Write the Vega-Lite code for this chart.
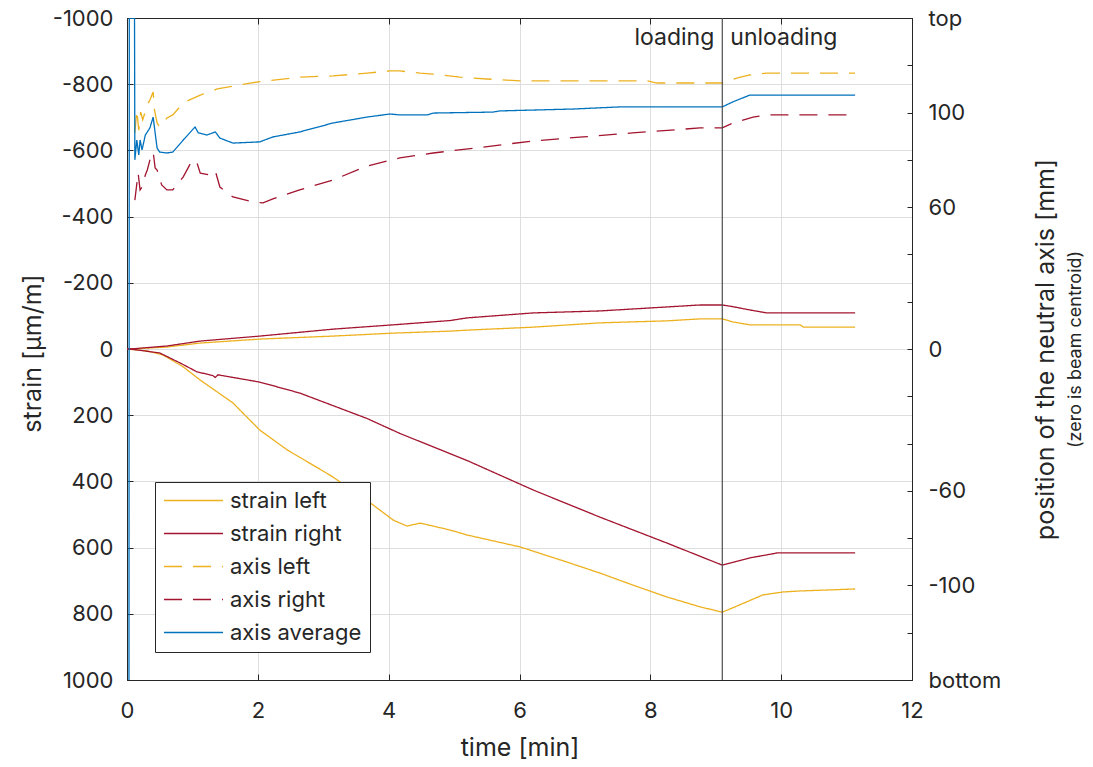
{
  "$schema": "https://vega.github.io/schema/vega-lite/v6.json",
  "width": 785,
  "height": 662,
  "autosize": {"type": "none"},
  "padding": {"left": 127, "top": 18, "right": 181, "bottom": 87},
  "background": "white",
  "config": {
    "font": "Inter",
    "view": {"stroke": "#262626", "strokeWidth": 1},
    "axis": {
      "labelFont": "Inter",
      "titleFont": "Inter",
      "labelFontSize": 22,
      "titleFontSize": 25,
      "titleFontWeight": "normal",
      "labelColor": "#262626",
      "titleColor": "#262626",
      "domainColor": "#262626",
      "tickColor": "#262626",
      "gridColor": "#dedede",
      "gridWidth": 1,
      "labelOverlap": false,
      "labelFlush": false
    },
    "legend": {
      "labelFont": "Inter",
      "labelFontSize": 22,
      "labelColor": "#262626",
      "symbolType": "stroke",
      "symbolSize": 3481,
      "symbolStrokeWidth": 1.3,
      "labelOffset": 6,
      "padding": 8,
      "rowPadding": 10,
      "clipHeight": 21,
      "fillColor": "white",
      "strokeColor": "#262626"
    }
  },
  "datasets": {
    "strain": [
      {"series": "strain left", "gauge": "lower", "t": 0, "strain": 0},
      {"series": "strain left", "gauge": "lower", "t": 0.31, "strain": 6},
      {"series": "strain left", "gauge": "lower", "t": 0.55, "strain": 18},
      {"series": "strain left", "gauge": "lower", "t": 0.86, "strain": 54},
      {"series": "strain left", "gauge": "lower", "t": 1.12, "strain": 94},
      {"series": "strain left", "gauge": "lower", "t": 1.62, "strain": 163},
      {"series": "strain left", "gauge": "lower", "t": 2.03, "strain": 245},
      {"series": "strain left", "gauge": "lower", "t": 2.45, "strain": 305},
      {"series": "strain left", "gauge": "lower", "t": 3.0, "strain": 369},
      {"series": "strain left", "gauge": "lower", "t": 3.15, "strain": 387},
      {"series": "strain left", "gauge": "lower", "t": 3.76, "strain": 471},
      {"series": "strain left", "gauge": "lower", "t": 4.07, "strain": 517},
      {"series": "strain left", "gauge": "lower", "t": 4.28, "strain": 535},
      {"series": "strain left", "gauge": "lower", "t": 4.48, "strain": 526},
      {"series": "strain left", "gauge": "lower", "t": 4.68, "strain": 535},
      {"series": "strain left", "gauge": "lower", "t": 4.94, "strain": 547},
      {"series": "strain left", "gauge": "lower", "t": 5.2, "strain": 562},
      {"series": "strain left", "gauge": "lower", "t": 6.01, "strain": 598},
      {"series": "strain left", "gauge": "lower", "t": 6.73, "strain": 644},
      {"series": "strain left", "gauge": "lower", "t": 7.23, "strain": 677},
      {"series": "strain left", "gauge": "lower", "t": 7.73, "strain": 713},
      {"series": "strain left", "gauge": "lower", "t": 8.25, "strain": 749},
      {"series": "strain left", "gauge": "lower", "t": 8.76, "strain": 779},
      {"series": "strain left", "gauge": "lower", "t": 9.1, "strain": 795},
      {"series": "strain left", "gauge": "lower", "t": 9.26, "strain": 782},
      {"series": "strain left", "gauge": "lower", "t": 9.72, "strain": 743},
      {"series": "strain left", "gauge": "lower", "t": 10.03, "strain": 734},
      {"series": "strain left", "gauge": "lower", "t": 10.29, "strain": 731},
      {"series": "strain left", "gauge": "lower", "t": 11.13, "strain": 725},

      {"series": "strain left", "gauge": "upper", "t": 0, "strain": 0},
      {"series": "strain left", "gauge": "upper", "t": 0.05, "strain": 0},
      {"series": "strain left", "gauge": "upper", "t": 0.61, "strain": -6},
      {"series": "strain left", "gauge": "upper", "t": 1.12, "strain": -18},
      {"series": "strain left", "gauge": "upper", "t": 2.03, "strain": -30},
      {"series": "strain left", "gauge": "upper", "t": 3.15, "strain": -39},
      {"series": "strain left", "gauge": "upper", "t": 4.07, "strain": -48},
      {"series": "strain left", "gauge": "upper", "t": 4.94, "strain": -54},
      {"series": "strain left", "gauge": "upper", "t": 5.2, "strain": -57},
      {"series": "strain left", "gauge": "upper", "t": 6.21, "strain": -66},
      {"series": "strain left", "gauge": "upper", "t": 7.23, "strain": -79},
      {"series": "strain left", "gauge": "upper", "t": 8.25, "strain": -85},
      {"series": "strain left", "gauge": "upper", "t": 8.76, "strain": -91},
      {"series": "strain left", "gauge": "upper", "t": 9.1, "strain": -91},
      {"series": "strain left", "gauge": "upper", "t": 9.26, "strain": -82},
      {"series": "strain left", "gauge": "upper", "t": 9.52, "strain": -73},
      {"series": "strain left", "gauge": "upper", "t": 10.29, "strain": -73},
      {"series": "strain left", "gauge": "upper", "t": 10.34, "strain": -66},
      {"series": "strain left", "gauge": "upper", "t": 11.13, "strain": -66},

      {"series": "strain right", "gauge": "lower", "t": 0, "strain": 0},
      {"series": "strain right", "gauge": "lower", "t": 0.05, "strain": 0},
      {"series": "strain right", "gauge": "lower", "t": 0.5, "strain": 12},
      {"series": "strain right", "gauge": "lower", "t": 0.81, "strain": 42},
      {"series": "strain right", "gauge": "lower", "t": 1.07, "strain": 69},
      {"series": "strain right", "gauge": "lower", "t": 1.31, "strain": 80},
      {"series": "strain right", "gauge": "lower", "t": 1.35, "strain": 86},
      {"series": "strain right", "gauge": "lower", "t": 1.39, "strain": 78},
      {"series": "strain right", "gauge": "lower", "t": 2.03, "strain": 100},
      {"series": "strain right", "gauge": "lower", "t": 2.64, "strain": 133},
      {"series": "strain right", "gauge": "lower", "t": 3.67, "strain": 210},
      {"series": "strain right", "gauge": "lower", "t": 4.17, "strain": 255},
      {"series": "strain right", "gauge": "lower", "t": 5.2, "strain": 337},
      {"series": "strain right", "gauge": "lower", "t": 6.21, "strain": 426},
      {"series": "strain right", "gauge": "lower", "t": 7.23, "strain": 508},
      {"series": "strain right", "gauge": "lower", "t": 8.25, "strain": 586},
      {"series": "strain right", "gauge": "lower", "t": 9.1, "strain": 653},
      {"series": "strain right", "gauge": "lower", "t": 9.52, "strain": 631},
      {"series": "strain right", "gauge": "lower", "t": 9.78, "strain": 622},
      {"series": "strain right", "gauge": "lower", "t": 9.94, "strain": 616},
      {"series": "strain right", "gauge": "lower", "t": 11.13, "strain": 616},

      {"series": "strain right", "gauge": "upper", "t": 0, "strain": 0},
      {"series": "strain right", "gauge": "upper", "t": 0.05, "strain": 0},
      {"series": "strain right", "gauge": "upper", "t": 0.61, "strain": -9},
      {"series": "strain right", "gauge": "upper", "t": 1.12, "strain": -24},
      {"series": "strain right", "gauge": "upper", "t": 2.03, "strain": -39},
      {"series": "strain right", "gauge": "upper", "t": 3.15, "strain": -60},
      {"series": "strain right", "gauge": "upper", "t": 4.07, "strain": -73},
      {"series": "strain right", "gauge": "upper", "t": 4.94, "strain": -86},
      {"series": "strain right", "gauge": "upper", "t": 5.2, "strain": -94},
      {"series": "strain right", "gauge": "upper", "t": 6.21, "strain": -109},
      {"series": "strain right", "gauge": "upper", "t": 7.23, "strain": -115},
      {"series": "strain right", "gauge": "upper", "t": 8.25, "strain": -127},
      {"series": "strain right", "gauge": "upper", "t": 8.76, "strain": -133},
      {"series": "strain right", "gauge": "upper", "t": 9.1, "strain": -133},
      {"series": "strain right", "gauge": "upper", "t": 9.26, "strain": -128},
      {"series": "strain right", "gauge": "upper", "t": 9.52, "strain": -118},
      {"series": "strain right", "gauge": "upper", "t": 9.78, "strain": -109},
      {"series": "strain right", "gauge": "upper", "t": 11.13, "strain": -109}
    ],
    "axis": [
      {"series": "axis left", "t": 0.12, "mm": 91.4},
      {"series": "axis left", "t": 0.15, "mm": 101.1},
      {"series": "axis left", "t": 0.18, "mm": 92.6},
      {"series": "axis left", "t": 0.21, "mm": 100.2},
      {"series": "axis left", "t": 0.24, "mm": 96.9},
      {"series": "axis left", "t": 0.31, "mm": 103.2},
      {"series": "axis left", "t": 0.35, "mm": 105.3},
      {"series": "axis left", "t": 0.4, "mm": 108.7},
      {"series": "axis left", "t": 0.42, "mm": 101.1},
      {"series": "axis left", "t": 0.46, "mm": 95.6},
      {"series": "axis left", "t": 0.5, "mm": 93.9},
      {"series": "axis left", "t": 0.61, "mm": 97.7},
      {"series": "axis left", "t": 0.7, "mm": 99.0},
      {"series": "axis left", "t": 0.86, "mm": 104.1},
      {"series": "axis left", "t": 1.12, "mm": 107.4},
      {"series": "axis left", "t": 1.38, "mm": 110.0},
      {"series": "axis left", "t": 1.62, "mm": 111.2},
      {"series": "axis left", "t": 1.88, "mm": 112.5},
      {"series": "axis left", "t": 2.14, "mm": 113.4},
      {"series": "axis left", "t": 2.64, "mm": 115.0},
      {"series": "axis left", "t": 3.15, "mm": 115.5},
      {"series": "axis left", "t": 3.67, "mm": 116.7},
      {"series": "axis left", "t": 4.02, "mm": 117.6},
      {"series": "axis left", "t": 4.17, "mm": 117.6},
      {"series": "axis left", "t": 4.48, "mm": 116.7},
      {"series": "axis left", "t": 4.68, "mm": 116.3},
      {"series": "axis left", "t": 5.09, "mm": 115.0},
      {"series": "axis left", "t": 5.5, "mm": 114.2},
      {"series": "axis left", "t": 6.01, "mm": 113.4},
      {"series": "axis left", "t": 6.47, "mm": 113.4},
      {"series": "axis left", "t": 7.23, "mm": 113.4},
      {"series": "axis left", "t": 7.95, "mm": 113.4},
      {"series": "axis left", "t": 8.1, "mm": 112.5},
      {"series": "axis left", "t": 8.76, "mm": 112.5},
      {"series": "axis left", "t": 9.1, "mm": 112.5},
      {"series": "axis left", "t": 9.32, "mm": 114.6},
      {"series": "axis left", "t": 9.52, "mm": 115.9},
      {"series": "axis left", "t": 9.78, "mm": 116.7},
      {"series": "axis left", "t": 11.13, "mm": 116.7},

      {"series": "axis right", "t": 0.12, "mm": 63.0},
      {"series": "axis right", "t": 0.17, "mm": 74.4},
      {"series": "axis right", "t": 0.2, "mm": 67.3},
      {"series": "axis right", "t": 0.23, "mm": 68.5},
      {"series": "axis right", "t": 0.28, "mm": 73.6},
      {"series": "axis right", "t": 0.31, "mm": 75.7},
      {"series": "axis right", "t": 0.35, "mm": 79.9},
      {"series": "axis right", "t": 0.4, "mm": 83.3},
      {"series": "axis right", "t": 0.43, "mm": 76.6},
      {"series": "axis right", "t": 0.46, "mm": 75.7},
      {"series": "axis right", "t": 0.53, "mm": 69.4},
      {"series": "axis right", "t": 0.61, "mm": 67.3},
      {"series": "axis right", "t": 0.7, "mm": 67.3},
      {"series": "axis right", "t": 0.86, "mm": 72.8},
      {"series": "axis right", "t": 0.99, "mm": 79.5},
      {"series": "axis right", "t": 1.04, "mm": 79.9},
      {"series": "axis right", "t": 1.07, "mm": 78.7},
      {"series": "axis right", "t": 1.12, "mm": 74.4},
      {"series": "axis right", "t": 1.27, "mm": 73.6},
      {"series": "axis right", "t": 1.35, "mm": 75.3},
      {"series": "axis right", "t": 1.42, "mm": 68.5},
      {"series": "axis right", "t": 1.62, "mm": 64.3},
      {"series": "axis right", "t": 1.93, "mm": 62.2},
      {"series": "axis right", "t": 2.08, "mm": 61.8},
      {"series": "axis right", "t": 2.23, "mm": 63.5},
      {"series": "axis right", "t": 2.64, "mm": 67.3},
      {"series": "axis right", "t": 3.15, "mm": 71.5},
      {"series": "axis right", "t": 3.67, "mm": 77.4},
      {"series": "axis right", "t": 4.17, "mm": 80.8},
      {"series": "axis right", "t": 4.68, "mm": 82.9},
      {"series": "axis right", "t": 5.44, "mm": 85.4},
      {"series": "axis right", "t": 6.21, "mm": 88.0},
      {"series": "axis right", "t": 6.97, "mm": 89.7},
      {"series": "axis right", "t": 7.73, "mm": 91.4},
      {"series": "axis right", "t": 8.76, "mm": 93.5},
      {"series": "axis right", "t": 9.1, "mm": 93.5},
      {"series": "axis right", "t": 9.26, "mm": 95.6},
      {"series": "axis right", "t": 9.57, "mm": 98.1},
      {"series": "axis right", "t": 9.78, "mm": 99.0},
      {"series": "axis right", "t": 11.13, "mm": 99.0},

      {"series": "axis average", "t": 0.03, "mm": -140},
      {"series": "axis average", "t": 0.035, "mm": 140},
      {"series": "axis average", "t": 0.115, "mm": 140},
      {"series": "axis average", "t": 0.12, "mm": 80.0},
      {"series": "axis average", "t": 0.15, "mm": 88.4},
      {"series": "axis average", "t": 0.18, "mm": 82.1},
      {"series": "axis average", "t": 0.2, "mm": 88.4},
      {"series": "axis average", "t": 0.23, "mm": 84.2},
      {"series": "axis average", "t": 0.28, "mm": 90.5},
      {"series": "axis average", "t": 0.35, "mm": 93.5},
      {"series": "axis average", "t": 0.4, "mm": 98.1},
      {"series": "axis average", "t": 0.43, "mm": 91.4},
      {"series": "axis average", "t": 0.46, "mm": 85.0},
      {"series": "axis average", "t": 0.5, "mm": 83.3},
      {"series": "axis average", "t": 0.61, "mm": 82.9},
      {"series": "axis average", "t": 0.7, "mm": 83.3},
      {"series": "axis average", "t": 0.86, "mm": 88.4},
      {"series": "axis average", "t": 1.04, "mm": 93.9},
      {"series": "axis average", "t": 1.09, "mm": 91.4},
      {"series": "axis average", "t": 1.22, "mm": 90.5},
      {"series": "axis average", "t": 1.35, "mm": 91.8},
      {"series": "axis average", "t": 1.42, "mm": 89.2},
      {"series": "axis average", "t": 1.62, "mm": 87.1},
      {"series": "axis average", "t": 2.03, "mm": 87.6},
      {"series": "axis average", "t": 2.23, "mm": 89.7},
      {"series": "axis average", "t": 2.64, "mm": 91.8},
      {"series": "axis average", "t": 3.15, "mm": 95.6},
      {"series": "axis average", "t": 3.67, "mm": 98.1},
      {"series": "axis average", "t": 4.02, "mm": 99.4},
      {"series": "axis average", "t": 4.17, "mm": 99.0},
      {"series": "axis average", "t": 4.59, "mm": 99.0},
      {"series": "axis average", "t": 4.68, "mm": 99.8},
      {"series": "axis average", "t": 5.59, "mm": 100.2},
      {"series": "axis average", "t": 5.7, "mm": 100.7},
      {"series": "axis average", "t": 6.82, "mm": 101.5},
      {"series": "axis average", "t": 7.54, "mm": 102.4},
      {"series": "axis average", "t": 9.1, "mm": 102.4},
      {"series": "axis average", "t": 9.26, "mm": 104.5},
      {"series": "axis average", "t": 9.52, "mm": 107.4},
      {"series": "axis average", "t": 11.13, "mm": 107.4}
    ],
    "phases": [
      {"t": 9.1, "label": "loading"},
      {"t": 9.1, "label": "unloading"}
    ]
  },
  "layer": [
    {
      "data": {"name": "strain"},
      "mark": {"type": "line", "strokeWidth": 1.3, "clip": true},
      "encoding": {
        "x": {
          "field": "t",
          "type": "quantitative",
          "scale": {"domain": [0, 12], "nice": false, "zero": false},
          "axis": {
            "values": [0, 2, 4, 6, 8, 10, 12],
            "grid": true,
            "tickSize": -6,
            "labelPadding": 26,
            "title": "time [min]",
            "titleY": 67,
            "titleBaseline": "middle"
          }
        },
        "y": {
          "field": "strain",
          "type": "quantitative",
          "scale": {"domain": [-1000, 1000], "reverse": true, "nice": false, "zero": false},
          "axis": {
            "values": [-1000, -800, -600, -400, -200, 0, 200, 400, 600, 800, 1000],
            "grid": true,
            "tickSize": -6,
            "labelPadding": 20,
            "labelExpr": "'' + datum.value",
            "title": "strain [μm/m]",
            "titleAngle": 270,
            "titleX": -95,
            "titleY": 335,
            "titleAlign": "center",
            "titleBaseline": "middle"
          }
        },
        "color": {
          "field": "series",
          "type": "nominal",
          "scale": {
            "domain": ["strain left", "strain right", "axis left", "axis right", "axis average"],
            "range": ["#EDB120", "#A2142F", "#EDB120", "#A2142F", "#0072BD"]
          },
          "legend": {"title": null, "orient": "none", "legendX": 28, "legendY": 464}
        },
        "strokeDash": {
          "field": "series",
          "type": "nominal",
          "scale": {
            "domain": ["strain left", "strain right", "axis left", "axis right", "axis average"],
            "range": [[1, 0], [1, 0], [18, 11], [18, 11], [1, 0]]
          },
          "legend": {"title": null, "orient": "none", "legendX": 28, "legendY": 464}
        },
        "detail": {"field": "gauge"}
      }
    },
    {
      "data": {"name": "axis"},
      "mark": {"type": "line", "strokeWidth": 1.3, "clip": true},
      "encoding": {
        "x": {
          "field": "t",
          "type": "quantitative",
          "axis": {
            "orient": "top",
            "values": [0, 2, 4, 6, 8, 10, 12],
            "labels": false,
            "grid": false,
            "tickSize": -6,
            "title": null
          }
        },
        "y": {
          "field": "mm",
          "type": "quantitative",
          "scale": {"domain": [-140, 140], "nice": false, "zero": false},
          "axis": {
            "orient": "right",
            "values": [-140, -120, -100, -80, -60, -40, -20, 0, 20, 40, 60, 80, 100, 120, 140],
            "grid": false,
            "tickSize": -5,
            "labelPadding": 21,
            "labelExpr": "datum.value == 140 ? 'top' : datum.value == -140 ? 'bottom' : (datum.value == 100 || datum.value == 60 || datum.value == 0 || datum.value == -60 || datum.value == -100) ? '' + datum.value : ''",
            "title": "position of the neutral axis [mm]",
            "titleAngle": 270,
            "titleX": 133,
            "titleY": 331,
            "titleAlign": "center",
            "titleBaseline": "middle"
          }
        },
        "color": {"field": "series", "type": "nominal"},
        "strokeDash": {"field": "series", "type": "nominal"}
      }
    },
    {
      "data": {"name": "phases"},
      "transform": [{"filter": "datum.label == 'loading'"}],
      "mark": {"type": "rule", "color": "#4d4d4d", "strokeWidth": 1.2},
      "encoding": {
        "x": {"field": "t", "type": "quantitative", "axis": null}
      }
    },
    {
      "data": {"name": "phases"},
      "transform": [{"filter": "datum.label == 'loading'"}],
      "mark": {"type": "text", "align": "right", "baseline": "alphabetic", "dx": -8, "font": "Inter", "fontSize": 23, "color": "#262626"},
      "encoding": {
        "x": {"field": "t", "type": "quantitative", "axis": null},
        "y": {
          "datum": 128.6,
          "type": "quantitative",
          "scale": {"domain": [-140, 140], "nice": false, "zero": false},
          "axis": {
            "orient": "right",
            "labels": false,
            "ticks": false,
            "domain": false,
            "grid": false,
            "title": "(zero is beam centroid)",
            "titleFontSize": 18,
            "titleAngle": 270,
            "titleX": 163,
            "titleY": 331,
            "titleAlign": "center",
            "titleBaseline": "middle"
          }
        },
        "text": {"field": "label"}
      }
    },
    {
      "data": {"name": "phases"},
      "transform": [{"filter": "datum.label == 'unloading'"}],
      "mark": {"type": "text", "align": "left", "baseline": "alphabetic", "dx": 8, "font": "Inter", "fontSize": 23, "color": "#262626"},
      "encoding": {
        "x": {"field": "t", "type": "quantitative", "axis": null},
        "y": {
          "datum": 128.6,
          "type": "quantitative",
          "scale": {"domain": [-140, 140], "nice": false, "zero": false},
          "axis": null
        },
        "text": {"field": "label"}
      }
    }
  ],
  "resolve": {
    "scale": {"y": "independent"},
    "axis": {"x": "independent", "y": "independent"}
  }
}
